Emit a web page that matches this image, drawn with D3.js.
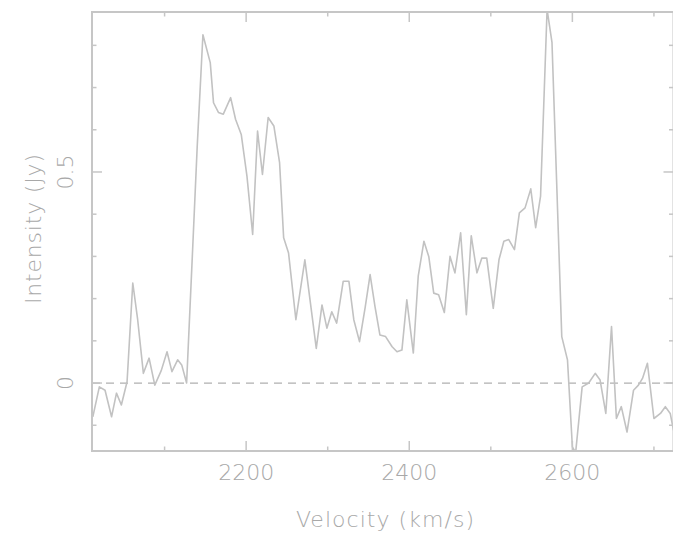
<!DOCTYPE html>
<html>
<head>
<meta charset="utf-8">
<script src="https://cdn.jsdelivr.net/npm/d3@7"></script>
<style>
  html, body { margin: 0; padding: 0; background: #ffffff; }
  svg { display: block; }
  text { font-family: "DejaVu Sans", "Liberation Sans", sans-serif; font-weight: 200; fill: #a8a8a8; }
</style>
</head>
<body>
<svg id="chart" width="673" height="534"></svg>
<script>
// Spectrum: velocity (km/s) and intensity (Jy)
const velocity = [
  2012, 2020, 2027, 2035, 2041, 2047, 2054, 2061, 2067, 2074, 2081, 2088, 2096, 2103, 2109, 2116, 2121, 2127,
  2134, 2140, 2147, 2156, 2160, 2166, 2172, 2181, 2187, 2194, 2201, 2208, 2214, 2220, 2227, 2234, 2241, 2246,
  2252, 2261, 2272, 2286, 2293, 2299, 2305, 2311, 2319, 2326, 2332, 2339, 2346, 2352, 2358, 2364, 2371, 2379,
  2385, 2391, 2397, 2405, 2411, 2418, 2424, 2430, 2436, 2443, 2450, 2456, 2463, 2470, 2476, 2483, 2489, 2495,
  2503, 2510, 2516, 2522, 2529, 2535, 2542, 2549, 2555, 2561, 2569, 2575, 2581, 2587, 2594, 2600, 2604, 2612,
  2620, 2628, 2634, 2641, 2648, 2654, 2660, 2667, 2675, 2681, 2686, 2692, 2700, 2708, 2714, 2720, 2724
];
const intensity = [
  -0.080, -0.009, -0.017, -0.080, -0.024, -0.052, 0.003, 0.237, 0.150, 0.023, 0.059, -0.005, 0.030, 0.074, 0.027, 0.055, 0.043, 0.000,
  0.300, 0.560, 0.825, 0.759, 0.664, 0.641, 0.637, 0.676, 0.625, 0.589, 0.490, 0.352, 0.597, 0.494, 0.629, 0.609, 0.522, 0.344,
  0.308, 0.150, 0.292, 0.082, 0.185, 0.130, 0.169, 0.142, 0.241, 0.241, 0.150, 0.098, 0.180, 0.257, 0.181, 0.114, 0.110, 0.086,
  0.074, 0.078, 0.197, 0.071, 0.253, 0.336, 0.299, 0.213, 0.209, 0.167, 0.300, 0.261, 0.356, 0.162, 0.349, 0.261, 0.296, 0.296,
  0.177, 0.292, 0.336, 0.340, 0.316, 0.403, 0.415, 0.460, 0.368, 0.443, 0.885, 0.807, 0.460, 0.110, 0.055, -0.151, -0.165, -0.009,
  0.000, 0.023, 0.007, -0.072, 0.134, -0.084, -0.056, -0.116, -0.017, -0.005, 0.011, 0.047, -0.084, -0.072, -0.056, -0.072, -0.112
];
const xMajorTicks = [2200, 2400, 2600];
const xMinorTicks = [2100, 2300, 2500, 2700];
const yMajorTicks = [0, 0.5];
const yMinorTicks = [-0.1, 0.1, 0.2, 0.3, 0.4, 0.6, 0.7, 0.8];
const xTitle = "Velocity (km/s)";
const yTitle = "Intensity (Jy)";

(function () {
const svg = d3.select("#chart");
const pl = 92, pr = 673.5, pt = 12, pb = 451;

const x = d3.scaleLinear().domain([2011, 2724]).range([pl, pr]);
const y = d3.scaleLinear().domain([-0.161, 0.879]).range([pb, pt]);

const data = velocity.map((v, i) => ({ v, f: intensity[i] }));

svg.append("defs").append("clipPath").attr("id", "clip")
  .append("rect").attr("x", pl).attr("y", pt).attr("width", pr - pl).attr("height", pb - pt);

const lineColor = "#c2c2c2";
const frameColor = "#c6c6c6";

// zero line (dashed)
svg.append("line")
  .attr("x1", pl).attr("x2", pr)
  .attr("y1", y(0)).attr("y2", y(0))
  .attr("stroke", "#b0b0b0").attr("stroke-width", 1.3)
  .attr("stroke-dasharray", "8,6");

// spectrum
svg.append("path")
  .datum(data)
  .attr("clip-path", "url(#clip)")
  .attr("fill", "none")
  .attr("stroke", lineColor)
  .attr("stroke-width", 1.6)
  .attr("stroke-linejoin", "round")
  .attr("d", d3.line().x(d => x(d.v)).y(d => y(d.f)));

// frame
svg.append("rect")
  .attr("x", pl).attr("y", pt).attr("width", pr - pl).attr("height", pb - pt)
  .attr("fill", "none").attr("stroke", frameColor).attr("stroke-width", 2);

// ticks (inside, all four sides)
const majLen = 10, minLen = 4.5;
const tickG = svg.append("g").attr("stroke", frameColor).attr("stroke-width", 1.5);
function xTicks(vals, len) {
  vals.forEach(v => {
    tickG.append("line").attr("x1", x(v)).attr("x2", x(v)).attr("y1", pb).attr("y2", pb - len);
    tickG.append("line").attr("x1", x(v)).attr("x2", x(v)).attr("y1", pt).attr("y2", pt + len);
  });
}
function yTicks(vals, len) {
  vals.forEach(v => {
    tickG.append("line").attr("y1", y(v)).attr("y2", y(v)).attr("x1", pl).attr("x2", pl + len);
    tickG.append("line").attr("y1", y(v)).attr("y2", y(v)).attr("x1", pr).attr("x2", pr - len);
  });
}
xTicks(xMajorTicks, majLen);
xTicks(xMinorTicks, minLen);
yTicks(yMajorTicks, majLen);
yTicks(yMinorTicks, minLen);

// tick labels
svg.append("g").selectAll("text").data(xMajorTicks).join("text")
  .attr("x", d => x(d)).attr("y", 480)
  .attr("text-anchor", "middle")
  .attr("font-size", 22)
  .text(d => d3.format("d")(d));

svg.append("g").selectAll("text").data(yMajorTicks).join("text")
  .attr("transform", d => `translate(73,${y(d)}) rotate(-90)`)
  .attr("text-anchor", "middle")
  .attr("font-size", 22)
  .text(d => d === 0 ? "0" : d3.format(".1f")(d));

// axis titles
svg.append("text")
  .attr("x", 385).attr("y", 527)
  .attr("text-anchor", "middle")
  .attr("font-size", 22)
  .attr("textLength", 178)
  .text(xTitle);

svg.append("text")
  .attr("transform", `translate(41,229) rotate(-90)`)
  .attr("text-anchor", "middle")
  .attr("font-size", 22)
  .attr("textLength", 150)
  .text(yTitle);
})();
</script>
</body>
</html>
